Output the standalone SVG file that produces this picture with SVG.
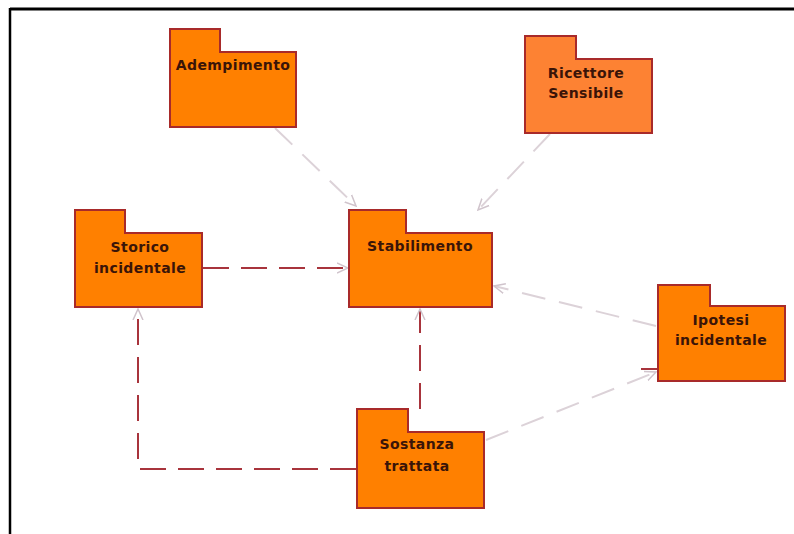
<svg xmlns="http://www.w3.org/2000/svg" width="794" height="534" viewBox="0 0 794 534">
<style>
.pkg{fill:#FF8000;stroke:#A82A2A;stroke-width:2;stroke-linejoin:miter}
.pkg2{fill:#FD8233;stroke:#A82A2A;stroke-width:2}
.lbl{font-family:"DejaVu Sans",Verdana,sans-serif;font-weight:bold;font-size:14px;letter-spacing:0.4px;fill:#3A1408;text-anchor:middle}
.red{fill:none;stroke:#A8343C;stroke-width:2;stroke-dasharray:26 12}
.gray{fill:none;stroke:#DCD2D8;stroke-width:2;stroke-dasharray:24 14}
</style>
<defs>
<marker id="ah" viewBox="0 0 12 12" refX="11" refY="6" markerWidth="12" markerHeight="12" markerUnits="userSpaceOnUse" orient="auto">
<path d="M0,1 L11,6 L0,11" fill="none" stroke="#D0C4CC" stroke-width="1.5"/>
</marker>
</defs>
<rect width="794" height="534" fill="#FFFFFF"/>
<line x1="10" y1="9" x2="794" y2="9" stroke="#000" stroke-width="3"/>
<line x1="10" y1="8" x2="10" y2="534" stroke="#000" stroke-width="2.5"/>
<g id="connectors">
<line class="gray" x1="275" y1="128" x2="356" y2="206" marker-end="url(#ah)"/>
<line class="gray" x1="550" y1="134" x2="478" y2="210" marker-end="url(#ah)"/>
<line class="red" x1="203" y1="268" x2="348" y2="268" marker-end="url(#ah)"/>
<line class="gray" x1="656" y1="326" x2="494" y2="286" marker-end="url(#ah)"/>
<line class="red" x1="420" y1="409" x2="420" y2="309" marker-end="url(#ah)"/>
<line class="gray" x1="486" y1="440" x2="656" y2="372" marker-end="url(#ah)"/>
<line x1="641" y1="369" x2="657" y2="369" stroke="#A8343C" stroke-width="2"/>
<polyline class="red" points="356,469 138,469 138,309" marker-end="url(#ah)"/>
</g>
<g id="adempimento">
<path class="pkg" d="M170,29 H220 V52 H296 V127 H170 Z"/>
<text class="lbl" x="233" y="70">Adempimento</text>
</g>
<g id="ricettore">
<path class="pkg2" d="M525,36 H576 V59 H652 V133 H525 Z"/>
<text class="lbl" x="586" y="78">Ricettore</text>
<text class="lbl" x="586" y="98">Sensibile</text>
</g>
<g id="storico">
<path class="pkg" d="M75,210 H125 V233 H202 V307 H75 Z"/>
<text class="lbl" x="140" y="252">Storico</text>
<text class="lbl" x="140" y="273">incidentale</text>
</g>
<g id="stabilimento">
<path class="pkg" d="M349,210 H406 V233 H492 V307 H349 Z"/>
<text class="lbl" x="420" y="251">Stabilimento</text>
</g>
<g id="ipotesi">
<path class="pkg" d="M658,285 H710 V306 H785 V381 H658 Z"/>
<text class="lbl" x="721" y="325">Ipotesi</text>
<text class="lbl" x="721" y="345">incidentale</text>
</g>
<g id="sostanza">
<path class="pkg" d="M357,409 H408 V432 H484 V508 H357 Z"/>
<text class="lbl" x="417" y="449">Sostanza</text>
<text class="lbl" x="417" y="471">trattata</text>
</g>
</svg>
